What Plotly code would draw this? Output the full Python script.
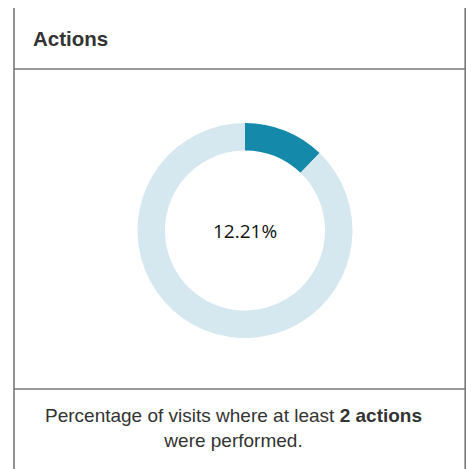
import plotly.graph_objects as go

# ---- data ----
segments = ["At least 2 actions", "Other visits"]
shares = [12.21, 87.79]
seg_colors = ["#1589a9", "#d5e8ef"]
title_text = "Actions"
footer_text = "Percentage of visits where at least <b>2 actions</b><br>were performed."

OFF = 8  # default page margin in the browser
W, H = 474 - 2 * OFF, 469 - OFF


def px(x):
    return (x - OFF) / W


def py(y):
    return 1 - (y - OFF) / H


fig = go.Figure()
cx, cy, r = 245, 230.5, 107.5
fig.add_trace(go.Pie(
    labels=segments,
    values=shares,
    hole=0.745,
    sort=False,
    direction="clockwise",
    rotation=0,
    marker=dict(colors=seg_colors, line=dict(width=0)),
    textinfo="none",
    hoverinfo="skip",
    showlegend=False,
    domain=dict(x=[px(cx - r), px(cx + r)], y=[py(cy + r), py(cy - r)]),
))

border = "#777777"
lw = 1.6
xr = 465.2
shapes = [
    dict(type="line", xref="paper", yref="paper", x0=px(14), x1=px(14), y0=py(7), y1=0, line=dict(color=border, width=lw)),
    dict(type="line", xref="paper", yref="paper", x0=px(xr), x1=px(xr), y0=py(7), y1=0, line=dict(color=border, width=lw)),
    dict(type="line", xref="paper", yref="paper", x0=px(14), x1=px(xr), y0=py(7), y1=py(7), line=dict(color=border, width=lw)),
    dict(type="line", xref="paper", yref="paper", x0=px(14), x1=px(xr), y0=py(69), y1=py(69), line=dict(color=border, width=lw)),
    dict(type="line", xref="paper", yref="paper", x0=px(14), x1=px(xr), y0=py(389), y1=py(389), line=dict(color=border, width=lw)),
]

annotations = [
    dict(text=f"{shares[0]:.2f}%", x=px(cx), y=py(cy), xref="paper", yref="paper",
         showarrow=False, xanchor="center", yanchor="middle",
         font=dict(family="Open Sans", size=19, color="#111111")),
    dict(text=f"<b>{title_text}</b>", x=px(31), y=py(38.5), xref="paper", yref="paper",
         showarrow=False, xanchor="left", yanchor="middle",
         font=dict(family="Liberation Sans, Arial", size=20.5, color="#333333")),
    dict(text=footer_text, x=px(233), y=py(428), xref="paper", yref="paper",
         showarrow=False, xanchor="center", yanchor="middle", align="center",
         font=dict(family="Liberation Sans, Arial", size=19, color="#333333")),
]

fig.update_layout(
    width=W, height=H,
    margin=dict(l=0, r=0, t=0, b=0),
    paper_bgcolor="white", plot_bgcolor="white",
    shapes=shapes, annotations=annotations,
)

fig.write_html("out.html", config={"displayModeBar": False})
